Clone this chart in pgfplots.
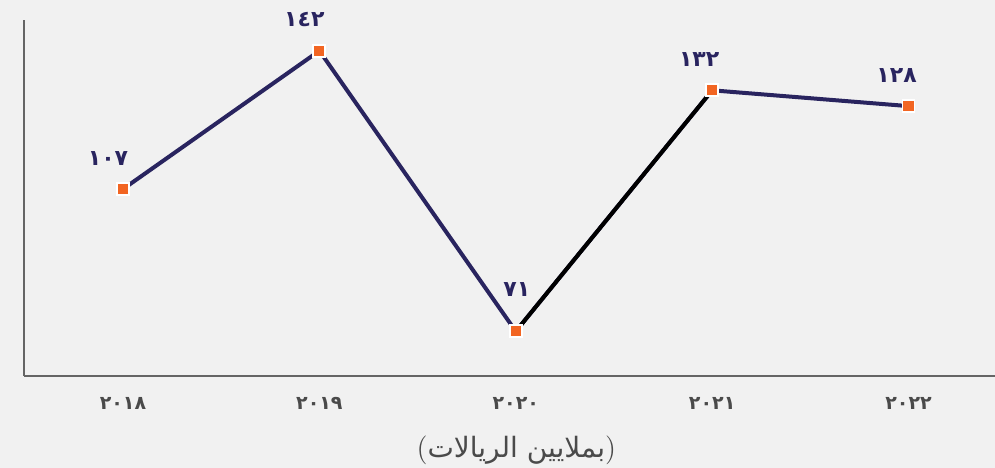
\documentclass[border=0pt]{standalone}
\usepackage{pgfplots}
\pgfplotsset{compat=1.18}
\usetikzlibrary{backgrounds}
\usepackage{fontspec}
\setmainfont{DejaVu Sans}
\TeXXeTstate=1
\newfontfamily\arabicfont[Script=Arabic]{DejaVu Sans}
\newfontfamily\digitfont{DejaVu Sans}

\definecolor{navy}{HTML}{29245F}
\definecolor{mkorange}{HTML}{F26522}
\definecolor{bggray}{HTML}{F1F1F1}
\definecolor{axgray}{HTML}{4A4A4A}

\begin{document}
\begin{tikzpicture}
\begin{axis}[
  name=ax,
  scale only axis, width=485.5pt, height=178pt,
  xmin=2017.496, xmax=2022.44, ymin=59.7, ymax=149.8,
  axis x line*=bottom, axis y line*=left,
  axis line style={-, axgray!85, line width=0.9pt},
  ytick=\empty,
  xtick={2018,2019,2020,2021,2022},
  xticklabels={٢٠١٨,٢٠١٩,٢٠٢٠,٢٠٢١,٢٠٢٢},
  major tick length=0pt,
  xticklabel style={font=\digitfont\fontsize{9.5}{10}\selectfont\bfseries, text=axgray, yshift=-7pt},
  xlabel={$\mathsurround=0pt ($\hbox{\arabicfont\beginR بملايين الريالات\endR}$)$},
  xlabel style={at={(axis description cs:0.507,0)}, anchor=center, yshift=-37pt,
    font=\fontsize{14}{16}\selectfont, text=axgray},
  clip=false,
]
\addplot[navy, line width=2pt, line join=round] table {
x y
2018 107
2019 142
2020 71
2021 132
2022 128
};
\addplot[black, line width=2pt] table {
x y
2020 71
2021 132
};
\addplot[only marks, mark=square*, mark size=3pt,
  mark options={fill=mkorange, draw=white, line width=0.9pt},
  point meta=explicit symbolic,
  visualization depends on={\thisrow{dx}\as\dx},
  visualization depends on={\thisrow{dy}\as\dy},
  nodes near coords,
  nodes near coords style={anchor=center, xshift=\dx pt, yshift=\dy pt,
    font=\digitfont\fontsize{11}{12}\selectfont\bfseries, text=navy},
] table[meta=lab] {
x y lab dx dy
2018 107 ١٠٧ -7.5 15.5
2019 142 ١٤٢ -7.5 15.5
2020 71 ٧١ 0.5 21
2021 132 ١٣٢ -6.5 15.5
2022 128 ١٢٨ -6 15.5
};
\end{axis}
\pgfresetboundingbox
\path (ax.south west)+(-12pt,-46pt) coordinate (bl);
\path (ax.north east)+(0,10pt) coordinate (tr);
\begin{scope}[on background layer]
\fill[bggray] (bl) rectangle (tr);
\end{scope}
\path (bl) rectangle (tr);
\end{tikzpicture}
\end{document}
